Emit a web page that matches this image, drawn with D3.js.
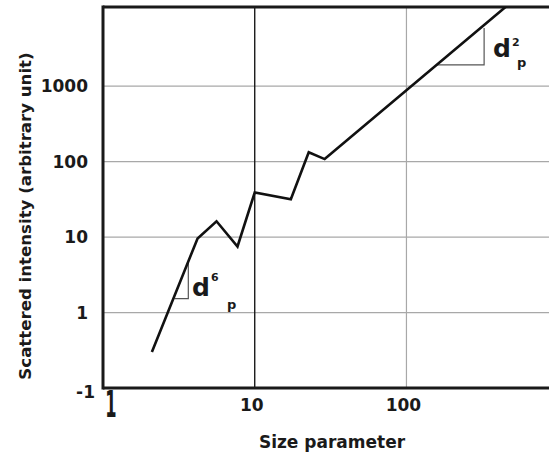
<!DOCTYPE html>
<html>
<head>
<meta charset="utf-8">
<script src="https://cdn.jsdelivr.net/npm/d3@7"></script>
<style>
  html, body { margin: 0; padding: 0; background: #fff; }
  svg { display: block; }
  text { font-family: "DejaVu Sans", "Noto Sans", sans-serif; font-weight: bold; fill: #1a1a1a; }
</style>
</head>
<body>
<div id="chart"></div>
<script>
// Size parameter vs scattered intensity (log-log)
const sizeParam = [2.1, 4.2, 5.6, 7.7, 10, 17.3, 22.7, 28.9, 480];
const intensity = [0.30, 9.6, 16.2, 7.5, 39, 31.7, 133, 108, 12500];

// Tick values and the labels printed at them
const yTickValues = [0.1, 1, 10, 100, 1000];
const yTickLabels = ["-1", "1", "10", "100", "1000"];
const xTickValues = [10, 100];
const xTickLabels = ["10", "100"];
const xOriginLabel = "1";

// Slope guide triangles (corner on the curve, right-angle corner, top on the curve)
const slopeGuides = [
  { label: "d", sup: "6", sub: "p", corner: [2.97, 1.53], top: [3.65, 4.75] },
  { label: "d", sup: "2", sub: "p", corner: [159, 1914], top: [325, 5920] }
];

const W = 549, H = 456;
const margin = { left: 103, top: 7, right: 0, bottom: 68 };

const svg = d3.select("#chart").append("svg")
  .attr("width", W).attr("height", H);

const x = d3.scaleLog().domain([1, 870]).range([margin.left, W - margin.right]);
const y = d3.scaleLog().domain([0.1, 11200]).range([H - margin.bottom, margin.top]);

const plotW = W - margin.left - margin.right;
const plotH = H - margin.top - margin.bottom;

svg.append("defs").append("clipPath").attr("id", "plot-clip")
  .append("rect")
  .attr("x", margin.left).attr("y", margin.top)
  .attr("width", plotW).attr("height", plotH);

// horizontal grid
svg.append("g")
  .selectAll("line")
  .data(yTickValues.filter(v => v > 0.1))
  .join("line")
  .attr("x1", margin.left).attr("x2", W)
  .attr("y1", d => y(d)).attr("y2", d => y(d))
  .attr("stroke", "#a8a8a8").attr("stroke-width", 1.2);

// vertical grid
svg.append("g")
  .selectAll("line")
  .data(xTickValues)
  .join("line")
  .attr("x1", d => x(d)).attr("x2", d => x(d))
  .attr("y1", margin.top).attr("y2", H - margin.bottom)
  .attr("stroke", d => d === 10 ? "#1a1a1a" : "#a8a8a8")
  .attr("stroke-width", d => d === 10 ? 1.4 : 1.2);

// frame: left, top, bottom
const frame = svg.append("g").attr("stroke", "#1a1a1a").attr("fill", "none");
frame.append("line")
  .attr("x1", x(1)).attr("x2", x(1))
  .attr("y1", margin.top - 1.5).attr("y2", H - margin.bottom + 1.5)
  .attr("stroke-width", 3);
frame.append("line")
  .attr("x1", x(1)).attr("x2", W)
  .attr("y1", margin.top).attr("y2", margin.top)
  .attr("stroke-width", 3);
frame.append("line")
  .attr("x1", x(1)).attr("x2", W)
  .attr("y1", H - margin.bottom).attr("y2", H - margin.bottom)
  .attr("stroke-width", 3);

// slope guides
slopeGuides.forEach(g => {
  svg.append("path")
    .attr("d", `M${x(g.corner[0])},${y(g.corner[1])} H${x(g.top[0])} V${y(g.top[1])}`)
    .attr("fill", "none").attr("stroke", "#555").attr("stroke-width", 1.2);
});

// curve
const line = d3.line().x((d, i) => x(sizeParam[i])).y((d, i) => y(intensity[i]));
svg.append("path")
  .datum(intensity)
  .attr("clip-path", "url(#plot-clip)")
  .attr("d", line)
  .attr("fill", "none")
  .attr("stroke", "#111")
  .attr("stroke-width", 2.6)
  .attr("stroke-linejoin", "miter");

// slope labels
const guideLabelPos = [[192, 296], [493, 57]];
slopeGuides.forEach((g, i) => {
  const [lx, ly] = guideLabelPos[i];
  svg.append("text").attr("x", lx).attr("y", ly)
    .attr("font-size", 25).text(g.label);
  svg.append("text").attr("x", lx + 19).attr("y", ly - (i ? 11 : 15))
    .attr("font-size", 11).attr("font-weight", "normal").text(g.sup);
  svg.append("text").attr("x", lx + 35 - (i ? 11 : 0)).attr("y", ly + 13 - (i ? 3 : 0))
    .attr("font-size", 13).attr("font-weight", "normal").text(g.sub);
});

// y tick labels
svg.append("g")
  .selectAll("text")
  .data(yTickValues)
  .join("text")
  .attr("x", (d, i) => yTickLabels[i] === "-1" ? 95 : 88)
  .attr("y", (d, i) => y(d) + (yTickLabels[i] === "-1" ? 4 : 0))
  .attr("dy", "0.36em")
  .attr("text-anchor", "end")
  .attr("font-size", 17)
  .text((d, i) => yTickLabels[i]);

// x tick labels
svg.append("g")
  .selectAll("text")
  .data(xTickValues)
  .join("text")
  .attr("x", d => x(d) - 3)
  .attr("y", 411)
  .attr("text-anchor", "middle")
  .attr("font-size", 17)
  .text((d, i) => xTickLabels[i]);

// origin label, drawn tall and narrow
svg.append("text")
  .attr("transform", `translate(${x(1) + 8},417) scale(0.65,1.5)`)
  .attr("text-anchor", "middle")
  .attr("font-size", 25)
  .text(xOriginLabel);

// axis titles
svg.append("text")
  .attr("x", 332).attr("y", 448)
  .attr("text-anchor", "middle")
  .attr("font-size", 17)
  .text("Size parameter");

svg.append("text")
  .attr("transform", "translate(31,216) rotate(-90)")
  .attr("text-anchor", "middle")
  .attr("font-size", 16.6)
  .text("Scattered intensity (arbitrary unit)");
</script>
</body>
</html>
